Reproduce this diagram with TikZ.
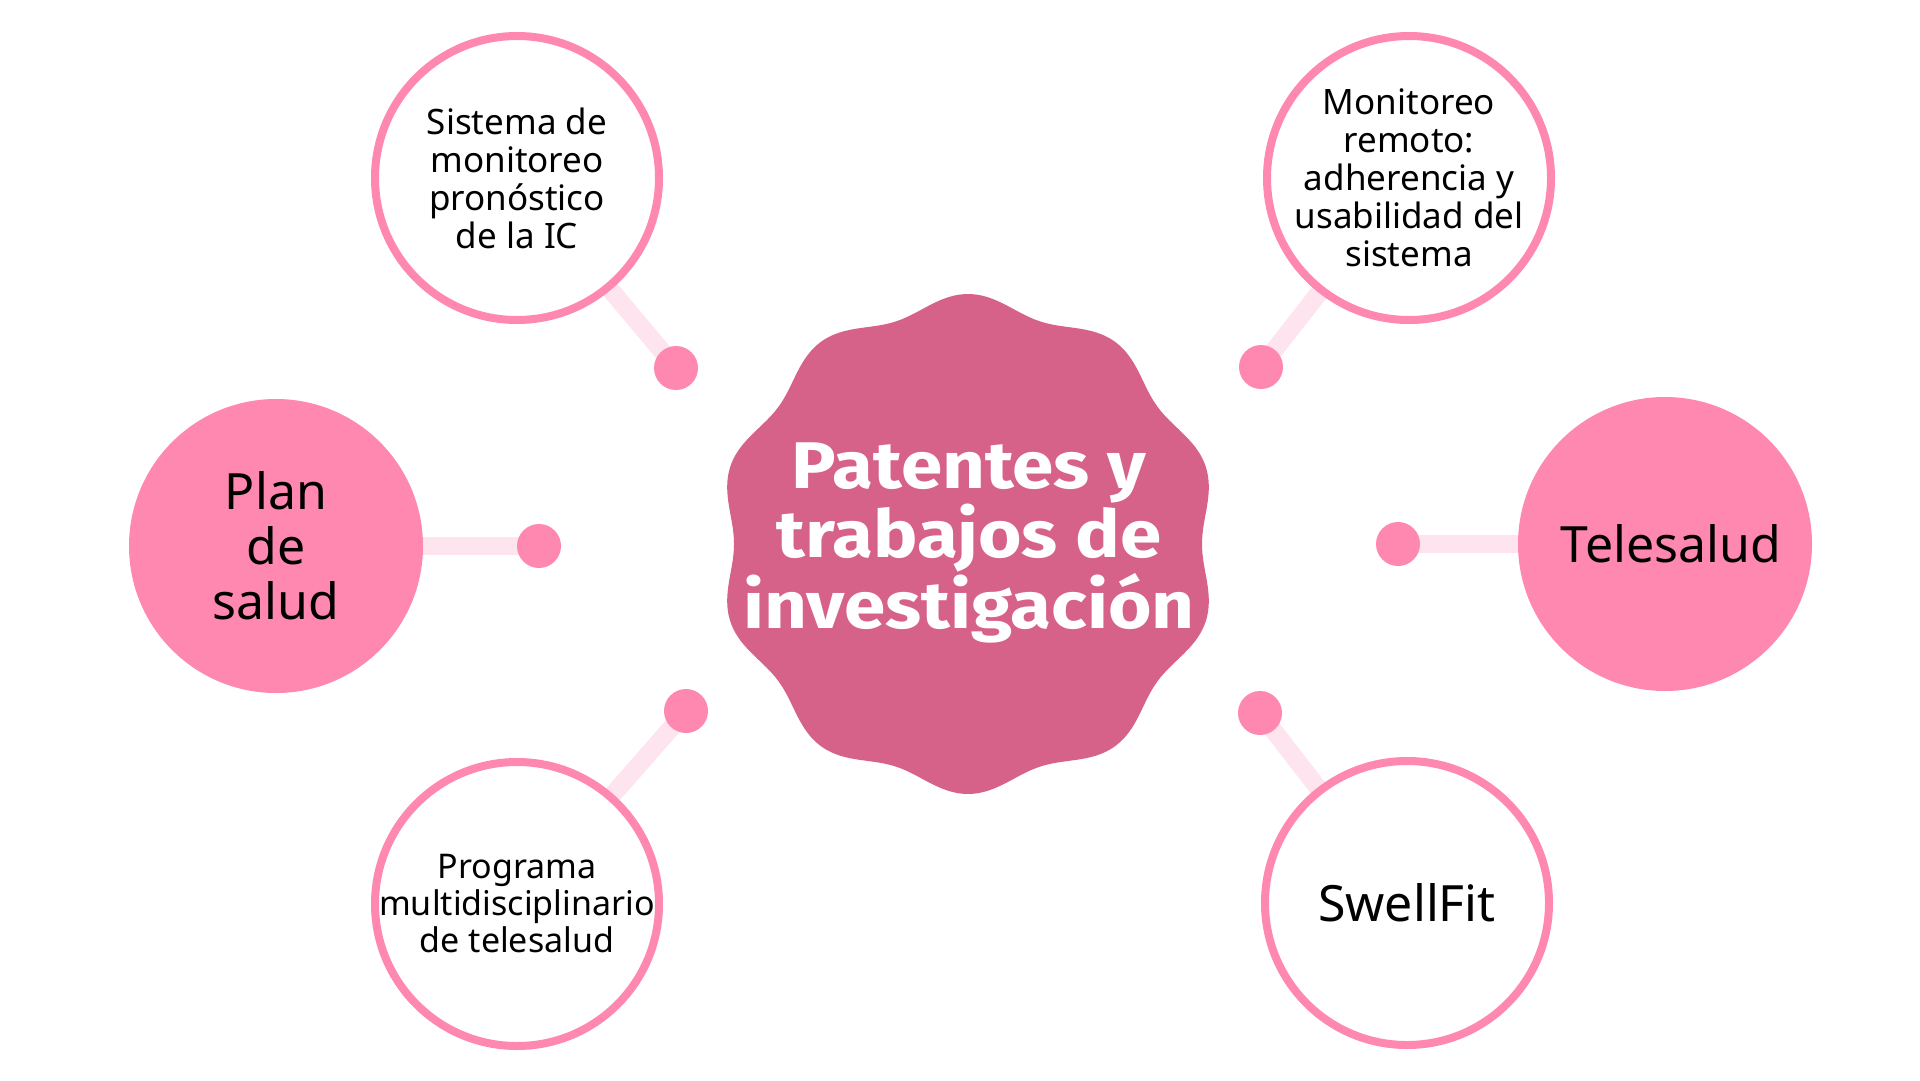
\documentclass[tikz,border=0pt]{standalone}
\usepackage{fontspec}
\setmainfont{Noto Sans}
\newfontfamily\titlefont{Fira Sans}[FakeStretch=1.13]
\usetikzlibrary{backgrounds}
\definecolor{pinkmain}{HTML}{FF88B0}
\definecolor{pinklight}{HTML}{FDE4EE}
\definecolor{blobpink}{HTML}{D6628A}
\tikzset{
  outlined/.style={circle, draw=pinkmain, line width=8pt, fill=white, minimum size=284pt, inner sep=0pt},
  filled/.style={circle, fill=pinkmain, minimum size=294pt, inner sep=0pt},
  smalltext/.style={align=center, text=black, inner sep=0pt, font=\fontsize{35}{38}\selectfont},
  bigtext/.style={align=center, text=black, inner sep=0pt, font=\fontsize{50}{55}\selectfont},
  dotnode/.style={circle, fill=pinkmain, minimum size=44pt, inner sep=0pt},
  conn/.style={draw=pinklight, line width=18pt, line cap=round},
  titletext/.style={align=center, text=white, font=\titlefont\bfseries\fontsize{66}{69}\selectfont}
}
\begin{document}
\begin{tikzpicture}[x=1pt,y=-1pt]
\useasboundingbox (0,0) rectangle (1920,1080);
% central badge
\fill[blobpink] plot[domain=0:360, samples=241, smooth, variable=\t]
  ({968+(242+8*cos(10*(\t-90)))*cos(\t)}, {544-(242+8*cos(10*(\t-90)))*sin(\t)}) -- cycle;
\node[titletext] (title) at (969,543) {Patentes y\\trabajos de\\investigación};
% outer nodes
\node[outlined, label={[smalltext]center:Sistema de\\monitoreo\\pronóstico\\de la IC}] (sis) at (517,178) {};
\node[outlined, label={[smalltext]center:Monitoreo\\remoto:\\adherencia y\\usabilidad del\\sistema}] (mon) at (1409,178) {};
\node[filled, label={[bigtext]center:Plan\\de\\salud}] (plan) at (276,546) {};
\node[filled, label={[bigtext, xshift=6pt]center:Telesalud}] (tele) at (1665,544) {};
\node[outlined, label={[smalltext, font=\fontsize{34}{37}\selectfont]center:Programa\\multidisciplinario\\de telesalud}] (prog) at (517,904) {};
\node[outlined, label={[bigtext]center:SwellFit}] (swell) at (1407,903) {};
% dots
\node[dotnode] (d1) at (676,368) {};
\node[dotnode] (d2) at (1261,367) {};
\node[dotnode] (d3) at (539,546) {};
\node[dotnode] (d4) at (1398,544) {};
\node[dotnode] (d5) at (686,711) {};
\node[dotnode] (d6) at (1260,713) {};
% connectors
\begin{pgfonlayer}{background}
\fill[white] (0,0) rectangle (1920,1080);
\draw[conn] (sis.center) -- (d1.center);
\draw[conn] (mon.center) -- (d2.center);
\draw[conn] (plan.center) -- (d3.center);
\draw[conn] (tele.center) -- (d4.center);
\draw[conn] (prog.center) -- (d5.center);
\draw[conn] (swell.center) -- (d6.center);
\end{pgfonlayer}
\end{tikzpicture}
\end{document}
